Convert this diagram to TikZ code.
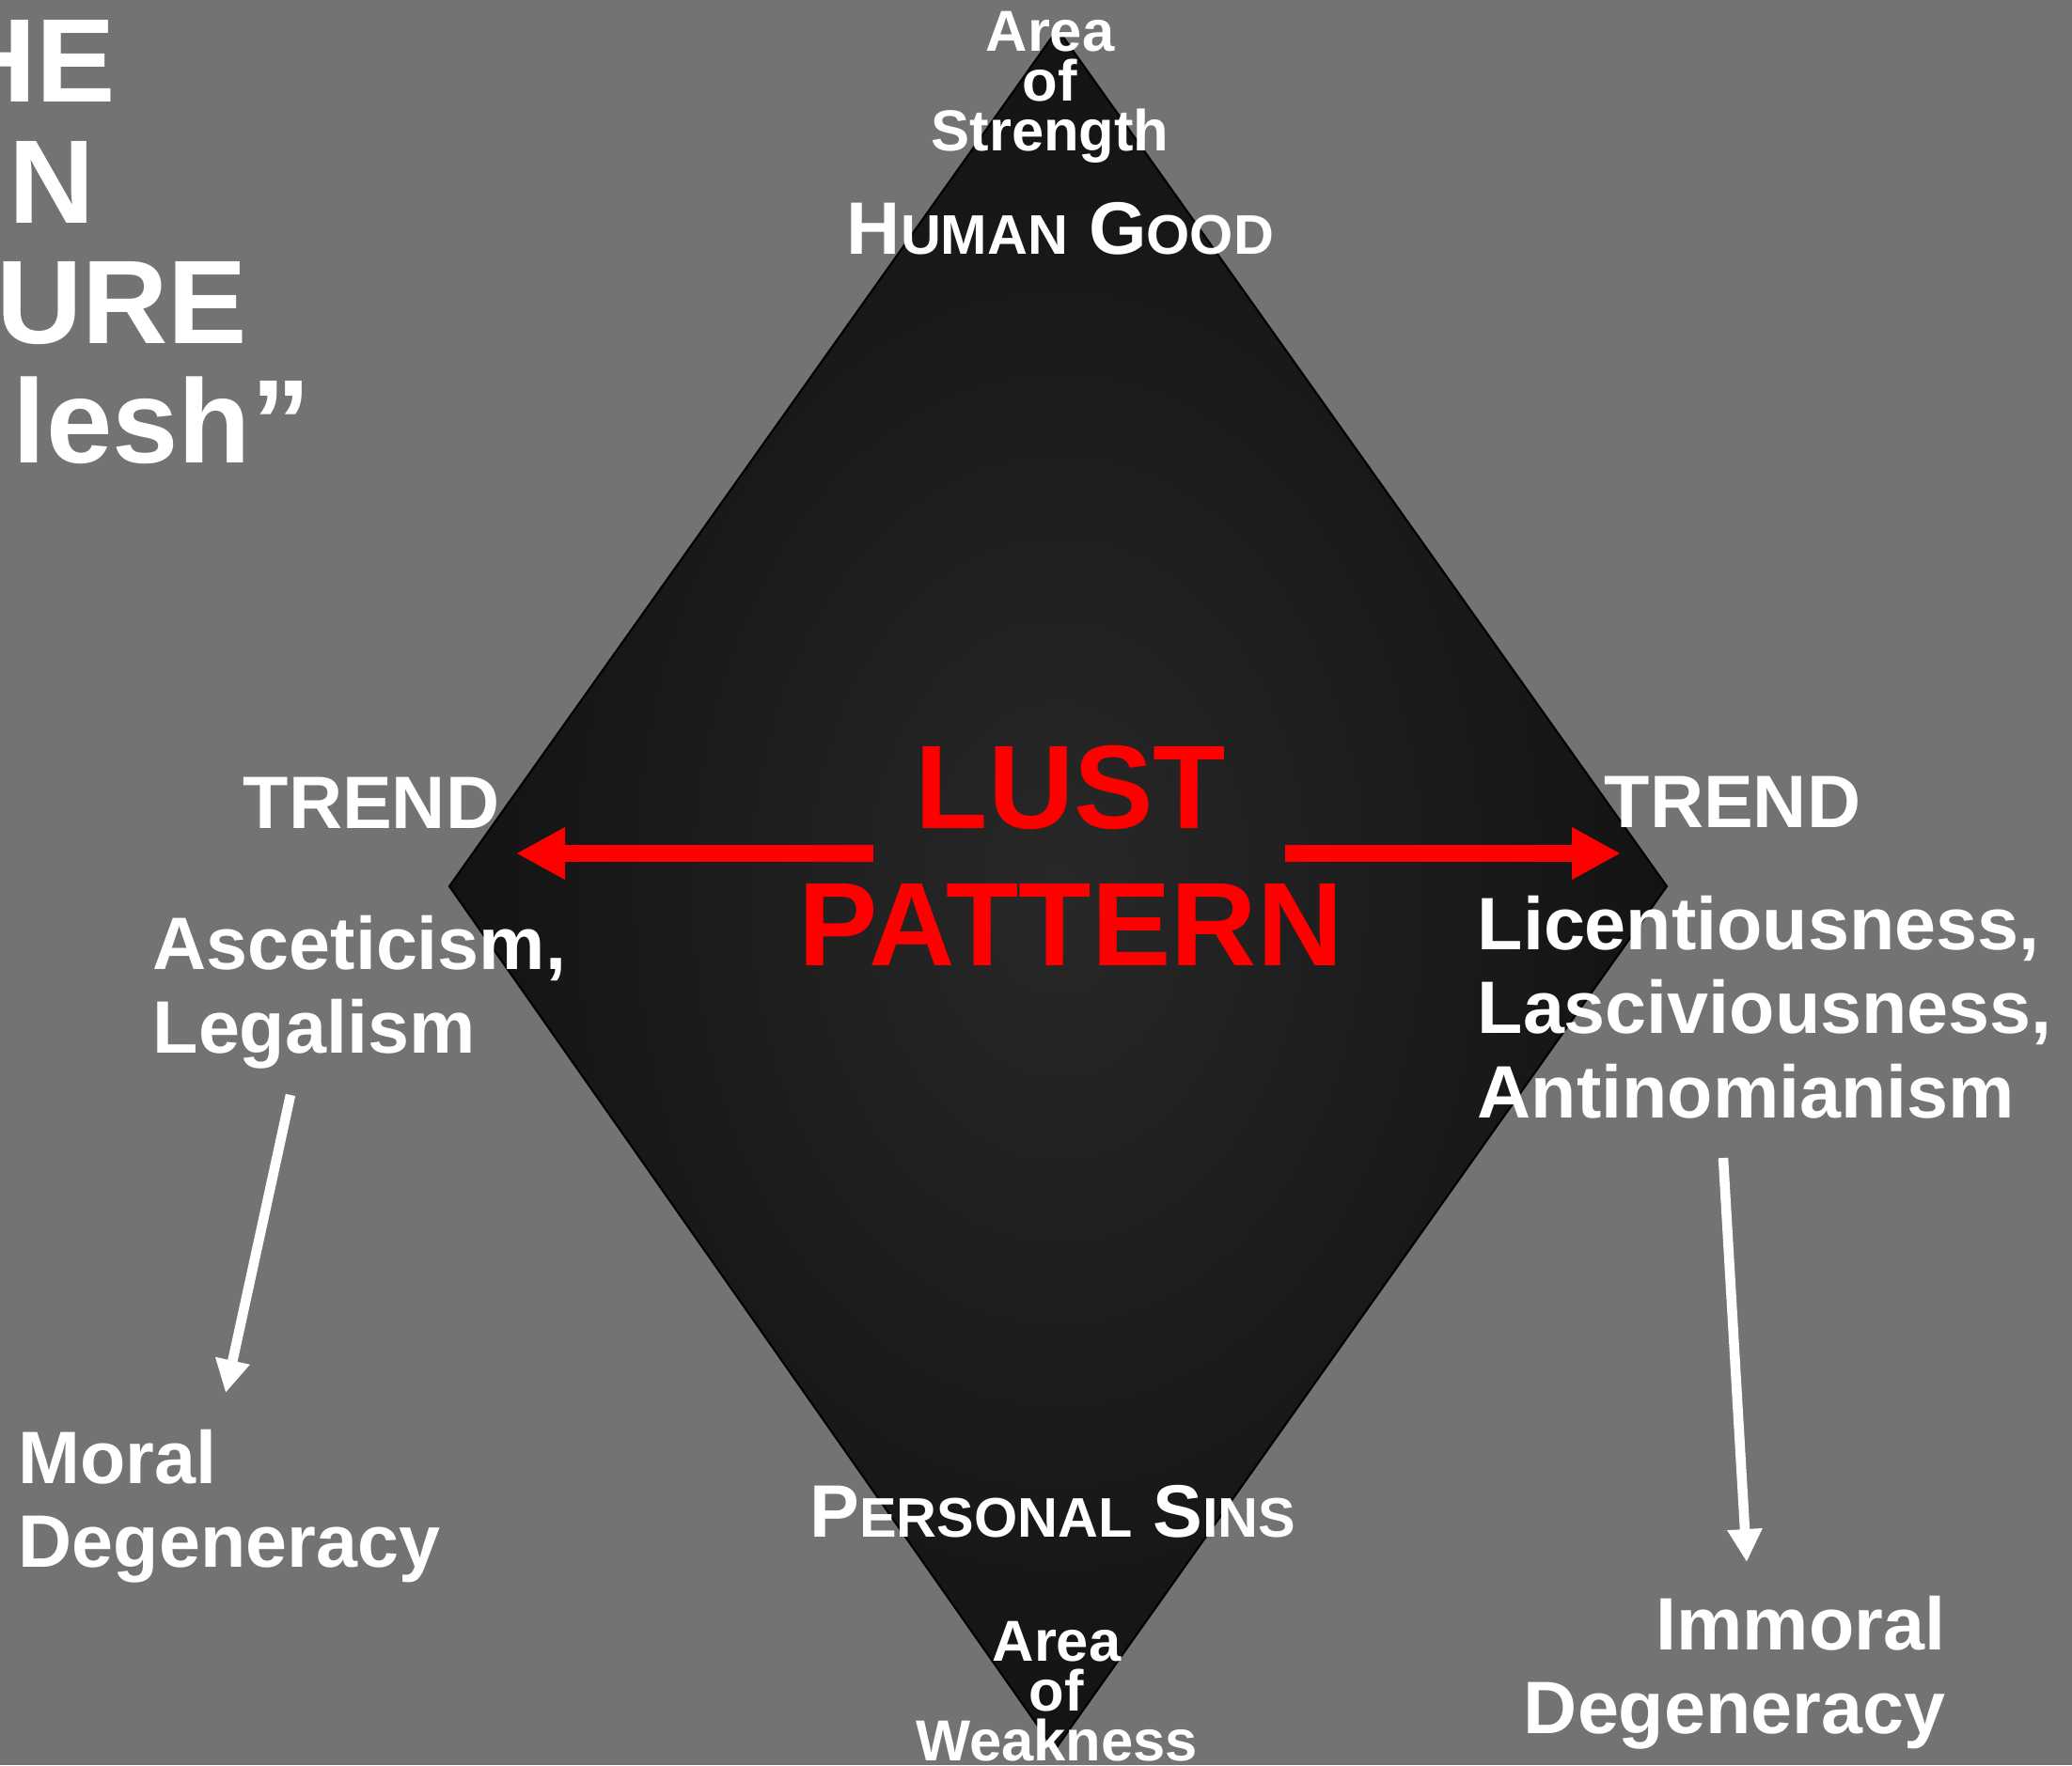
\documentclass[tikz,border=0pt]{standalone}
\usepackage{fontspec}
\setmainfont{Liberation Sans}
\usetikzlibrary{arrows.meta}
\definecolor{slidegray}{RGB}{115,115,115}
\definecolor{lustred}{RGB}{255,0,0}
\definecolor{diamondin}{RGB}{40,40,40}
\definecolor{diamondout}{RGB}{19,19,19}
\newcommand{\scword}[2]{#1{\fontsize{16.9}{20}\selectfont #2}}

\begin{document}
\begin{tikzpicture}[
        every node/.style={inner sep=0pt, text=white},
        txt/.style={font=\bfseries\fontsize{22.5}{25.5}\selectfont},
        areatxt/.style={font=\bfseries\fontsize{17.5}{15.2}\selectfont, align=center},
        titlefrag/.style={font=\bfseries\fontsize{36}{36}\selectfont, anchor=base east},
        lusttxt/.style={font=\bfseries\fontsize{36}{41.7}\selectfont, text=lustred, align=center},
        redarrow/.style={draw=lustred, line width=0.18cm, -{Triangle[length=0.52cm,width=0.52cm]}},
        whitearrow/.style={draw=white, line width=0.105cm, -{Triangle[length=0.35cm,width=0.35cm]}}
    ]
                \useasboundingbox (0,0) rectangle (22.04,-18.78);
                \fill[slidegray] (0,0) rectangle (22.04,-18.78);

                \coordinate (top) at (11.25,-0.31);
                \coordinate (right) at (17.73,-9.43);
                \coordinate (bottom) at (11.22,-18.62);
                \coordinate (left) at (4.78,-9.43);
                \shadedraw[inner color=diamondin, outer color=diamondout, draw=black, line width=0.6pt]
                    (top) -- (right) -- (bottom) -- (left) -- cycle;

                \node[titlefrag] (t1) at (1.24,-1.08) {HE};
                \node[titlefrag] (t2) at (1.02,-2.37) {N};
                \node[titlefrag] (t3) at (2.64,-3.65) {URE};
                \node[titlefrag] (t4) at (3.31,-4.92) {lesh”};

                \node[areatxt, anchor=north] (strength) at (11.17,-0.11) {Area\\of\\Strength};
                \node[txt, anchor=base] (good) at (11.28,-2.70) {\scword{H}{UMAN} \scword{G}{OOD}};
                \node[txt, anchor=base] (sins) at (11.20,-16.35) {\scword{P}{ERSONAL} \scword{S}{INS}};
                \node[areatxt, anchor=north] (weakness) at (11.24,-17.24) {Area\\of\\Weakness};

                \node[lusttxt, anchor=north] (lust) at (11.39,-7.92) {LUST\\PATTERN};

                \node[txt, anchor=base] (trendl) at (3.95,-8.81) {TREND};
                \node[txt, anchor=base] (trendr) at (18.43,-8.80) {TREND};
                \node[txt, anchor=north west, align=left] (ascetic) at (1.62,-9.73) {Asceticism,\\Legalism};
                \node[txt, anchor=north west, align=left] (licence) at (15.71,-9.52) {Licentiousness,\\Lasciviousness,\\Antinomianism};
                \node[txt, anchor=north west, align=left] (moral) at (0.19,-15.20) {Moral\\Degeneracy};
                \node[txt, anchor=north east, align=right] (immoral) at (20.70,-16.97) {Immoral\\Degeneracy};

                \coordinate (lustl) at (9.29,-9.08);
                \coordinate (tipl) at (5.49,-9.08);
                \coordinate (lustr) at (13.67,-9.08);
                \coordinate (tipr) at (17.24,-9.08);
                \draw[redarrow] (lustl) -- (tipl);
                \draw[redarrow] (lustr) -- (tipr);

                \coordinate (ascend) at (3.09,-11.65);
                \coordinate (moraltip) at (2.40,-14.82);
                \coordinate (licend) at (18.33,-12.32);
                \coordinate (immoraltip) at (18.58,-16.62);
                \draw[whitearrow] (ascend) -- (moraltip);
                \draw[whitearrow] (licend) -- (immoraltip);
            \end{tikzpicture}
\end{document}
